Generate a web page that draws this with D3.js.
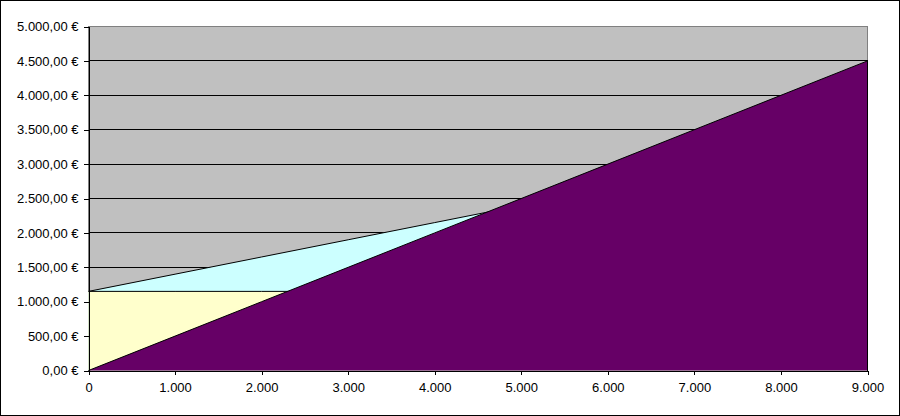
<!DOCTYPE html>
<html><head><meta charset="utf-8">
<script src="https://cdn.jsdelivr.net/npm/d3@7"></script>
<style>
html,body{margin:0;padding:0;background:#fff;}
svg{display:block;}
text{font-family:"Liberation Sans",Arial,sans-serif;font-size:13px;fill:#000;}
</style></head>
<body>
<svg id="chart" width="900" height="416"></svg>
<script>
const units      = [0, 1000, 2000, 3000, 4000, 5000, 6000, 7000, 8000, 9000];
const revenue    = [0, 500, 1000, 1500, 2000, 2500, 3000, 3500, 4000, 4500];
const totalCost  = [1150, 1400, 1650, 1900, 2150, 2400, 2650, 2900, 3150, 3400];
const fixedCost  = [1150, 1150, 1150, 1150, 1150, 1150, 1150, 1150, 1150, 1150];
const yTicks     = [0, 500, 1000, 1500, 2000, 2500, 3000, 3500, 4000, 4500, 5000];
const xTicks     = [0, 1000, 2000, 3000, 4000, 5000, 6000, 7000, 8000, 9000];

const W = 900, H = 416;
const pL = 88.5, pR = 867.5, pT = 26.5, pB = 370.5;
const svg = d3.select("#chart");
const loc = d3.formatLocale({decimal: ",", thousands: ".", grouping: [3], currency: ["", " €"]});
const fy = d => loc.format(",.2f")(d) + " €";
const fx = loc.format(",.0f");

const x = d3.scaleLinear().domain([0, 9000]).range([pL, pR]);
const y = d3.scaleLinear().domain([0, 5000]).range([pB, pT]);

// outer frame
svg.append("rect").attr("x", 0.5).attr("y", 0.5).attr("width", W - 1).attr("height", H - 1)
  .attr("fill", "#fff").attr("stroke", "#000").attr("shape-rendering", "crispEdges");

// plot background
svg.append("rect").attr("x", pL).attr("y", pT).attr("width", pR - pL).attr("height", pB - pT)
  .attr("fill", "#C0C0C0").attr("stroke", "#808080").attr("shape-rendering", "crispEdges");

// gridlines
svg.append("g").selectAll("line").data(yTicks.filter(d => d > 0 && d < 5000)).join("line")
  .attr("x1", pL).attr("x2", pR)
  .attr("y1", d => y(d)).attr("y2", d => y(d))
  .attr("stroke", "#000").attr("shape-rendering", "crispEdges");

function drawArea(vals, fill) {
  const data = units.map((u, i) => [u, vals[i]]);
  const area = d3.area().x(d => x(d[0])).y0(y(0)).y1(d => y(d[1]));
  const line = d3.line().x(d => x(d[0])).y(d => y(d[1]));
  svg.append("path").datum(data).attr("d", area).attr("fill", fill);
  svg.append("path").datum(data).attr("d", line).attr("fill", "none").attr("stroke", "#000").attr("stroke-width", 1);
}
drawArea(totalCost, "#CCFFFF");
drawArea(fixedCost, "#FFFFCC");
drawArea(revenue, "#660066");

// right edge of purple area outline
svg.append("line").attr("x1", x(9000)).attr("x2", x(9000)).attr("y1", y(revenue[9])).attr("y2", y(0))
  .attr("stroke", "#000").attr("shape-rendering", "crispEdges");

// axes
const yAxis = d3.axisLeft(y).tickValues(yTicks).tickFormat(fy).tickSizeInner(5).tickSizeOuter(0).tickPadding(5);
const gy = svg.append("g").attr("transform", `translate(${pL},0)`).call(yAxis);
const xAxis = d3.axisBottom(x).tickValues(xTicks).tickFormat(fx).tickSizeInner(4).tickSizeOuter(0).tickPadding(8);
const gx = svg.append("g").attr("transform", `translate(0,${pB})`).call(xAxis);
[gy, gx].forEach(g => {
  g.selectAll("path,line").attr("stroke", "#000").attr("shape-rendering", "crispEdges");
  g.selectAll("text").attr("font-family", "'Liberation Sans',Arial,sans-serif").attr("font-size", 13).attr("fill", "#000");
});
</script>
</body></html>
